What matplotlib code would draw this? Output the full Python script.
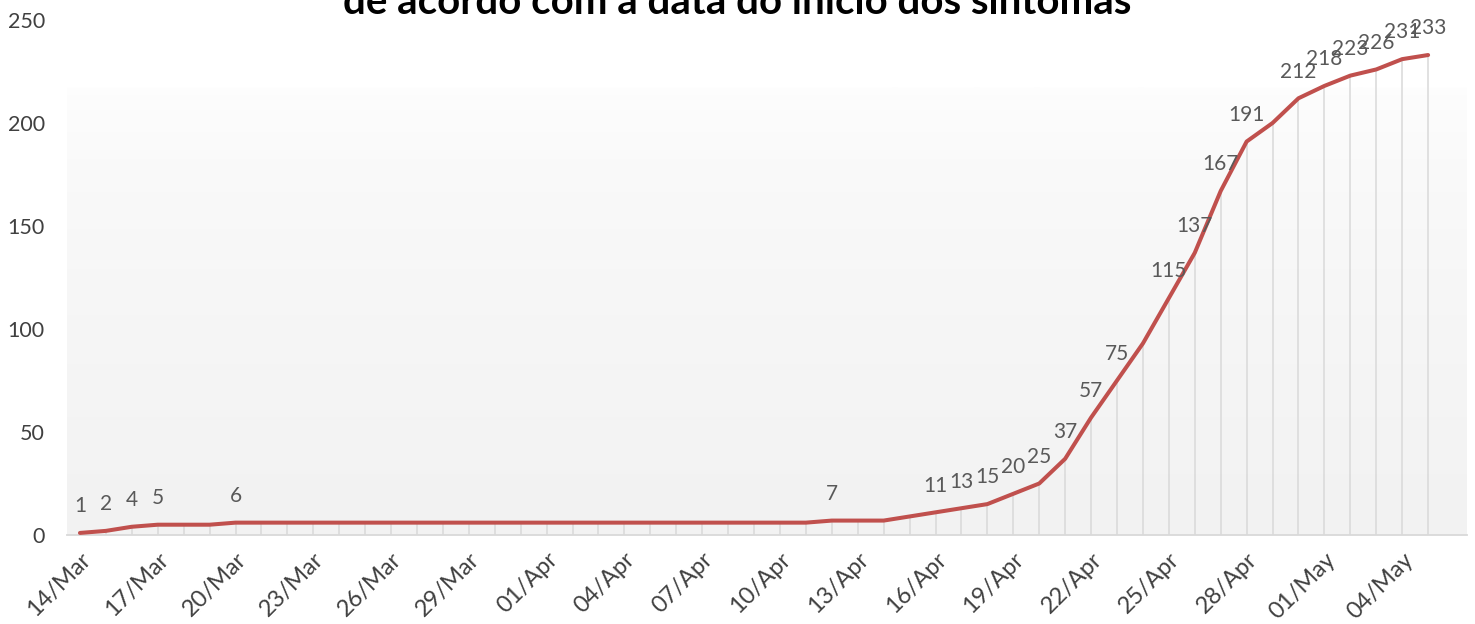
import matplotlib
matplotlib.use("Agg")
import matplotlib.pyplot as plt
import numpy as np
import pandas as pd

plt.rcParams['font.family'] = ['Lato', 'DejaVu Sans']

start_date = "2020-03-14"
values = [1, 2, 4, 5, 5, 5, 6, 6, 6, 6, 6, 6, 6, 6, 6, 6, 6, 6, 6, 6, 6, 6, 6, 6, 6, 6, 6, 6, 6,
          7, 7, 7, 9, 11, 13, 15, 20, 25, 37, 57, 75, 93, 115, 137, 167, 191, 200, 212, 218, 223,
          226, 231, 233]
shown_labels = [1, 2, 4, 5, None, None, 6] + [None] * 22 + [7, None, None, None, 11, 13, 15, 20, 25,
          37, 57, 75, None, 115, 137, 167, 191, None, 212, 218, 223, 226, 231, 233]
y_ticks = [0, 50, 100, 150, 200, 250]
title = "de acordo com a data do início dos sintomas"

dates = pd.date_range(start_date, periods=len(values), freq="D")
tick_labels = [d.strftime("%d/%b") for d in dates]
x = np.arange(len(values))

fig = plt.figure(figsize=(14.75, 6.24), dpi=100)
ax = fig.add_axes([67/1475, 89/624, (1467-67)/1475, (535-20)/624])
ax.set_xlim(-0.5, len(values) + 0.5)
ax.set_ylim(0, 250)

# gradient plot-area background
grad = np.linspace(0, 1, 256).reshape(-1, 1)
top = np.array([0xfe, 0xfe, 0xfe]) / 255
bot = np.array([0xf2, 0xf2, 0xf2]) / 255
img = top + (bot - top) * grad[:, :, None] ** 0.6
ax.imshow(img, extent=[-0.5, len(values) + 0.5, 0, 217], aspect='auto', zorder=0, origin='upper')

# drop lines
ax.vlines(x, 0, values, colors='#d9d9d9', lw=1.1, zorder=1)
ax.plot(x, values, color='#c0504d', lw=2.9, solid_capstyle='round', solid_joinstyle='round', zorder=3)

for xi, v, lab in zip(x, values, shown_labels):
    if lab is not None:
        ax.annotate(str(lab), (xi, v), xytext=(0, 12), textcoords='offset points',
                    ha='center', va='bottom', fontsize=15, color='#595959', zorder=4)

for s in ['top', 'right', 'left']:
    ax.spines[s].set_visible(False)
ax.spines['bottom'].set_color('#d9d9d9')
ax.spines['bottom'].set_linewidth(1.3)

ax.set_yticks(y_ticks)
ax.set_yticklabels([str(t) for t in y_ticks], fontsize=15.5, color='#404040')
ax.tick_params(axis='y', length=0, pad=16)

ax.set_xticks(x[::3])
ax.set_xticklabels(tick_labels[::3], rotation=45, ha='right', rotation_mode='anchor',
                   fontsize=17, color='#404040')
ax.tick_params(axis='x', length=0, pad=10)

t = fig.text(0.5, 0.5, title, ha='center', va='baseline',
             fontsize=29, fontweight='bold', color='black')
t.set_transform(None)
t.set_position((737, 624 - 14))

fig.savefig("out.png", dpi=100)
